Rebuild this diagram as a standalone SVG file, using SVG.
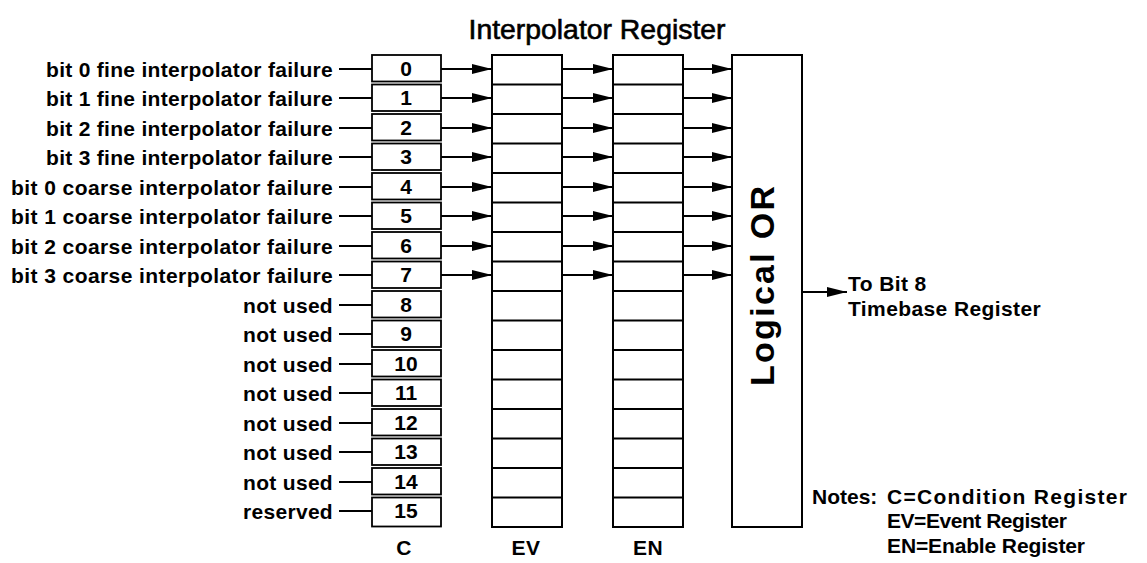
<svg xmlns="http://www.w3.org/2000/svg" width="1147" height="563" viewBox="0 0 1147 563">
<style>
  text { font-family: "Liberation Sans", Arial, sans-serif; fill: #000; }
  .lbl { font-size: 21px; font-weight: bold; letter-spacing: 0.3px; text-anchor: end; }
  .num { font-size: 21px; font-weight: bold; text-anchor: middle; }
  .col { font-size: 21px; font-weight: bold; text-anchor: middle; letter-spacing: 0.5px; }
  .out { font-size: 21px; font-weight: bold; letter-spacing: 0.4px; }
  .note { font-size: 21px; font-weight: bold; }
  .box { fill: #fff; stroke: #000; stroke-width: 2; }
  .cell { fill: #fff; stroke: #000; stroke-width: 1.8; }
  .ln { stroke: #000; stroke-width: 2; fill: none; }
  .arr { stroke: #000; stroke-width: 2; fill: none; marker-end: url(#ah); }
</style>
<defs>
  <marker id="ah" markerUnits="userSpaceOnUse" markerWidth="21" markerHeight="11" refX="20" refY="5" orient="auto">
    <path d="M0,0 L20,5 L0,10 z" fill="#000"/>
  </marker>
</defs>
<rect width="1147" height="563" fill="#fff"/>

<text id="title" x="597" y="39" font-size="27" text-anchor="middle" stroke="#000" stroke-width="0.6" textLength="257" lengthAdjust="spacingAndGlyphs">Interpolator Register</text>

<g id="labels">
  <text class="lbl" x="333" y="77">bit 0 fine interpolator failure</text>
  <text class="lbl" x="333" y="106">bit 1 fine interpolator failure</text>
  <text class="lbl" x="333" y="136">bit 2 fine interpolator failure</text>
  <text class="lbl" x="333" y="165">bit 3 fine interpolator failure</text>
  <text class="lbl" x="333" y="195" textLength="322" lengthAdjust="spacing">bit 0 coarse interpolator failure</text>
  <text class="lbl" x="333" y="224" textLength="322" lengthAdjust="spacing">bit 1 coarse interpolator failure</text>
  <text class="lbl" x="333" y="254" textLength="322" lengthAdjust="spacing">bit 2 coarse interpolator failure</text>
  <text class="lbl" x="333" y="283" textLength="322" lengthAdjust="spacing">bit 3 coarse interpolator failure</text>
  <text class="lbl" x="333" y="313">not used</text>
  <text class="lbl" x="333" y="342">not used</text>
  <text class="lbl" x="333" y="372">not used</text>
  <text class="lbl" x="333" y="401">not used</text>
  <text class="lbl" x="333" y="431">not used</text>
  <text class="lbl" x="333" y="460">not used</text>
  <text class="lbl" x="333" y="490">not used</text>
  <text class="lbl" x="333" y="519">reserved</text>
</g>

<g id="reg-C">
  <rect class="cell" x="372" y="55" width="69" height="26.5"/>
  <rect class="cell" x="372" y="84.5" width="69" height="26.5"/>
  <rect class="cell" x="372" y="114" width="69" height="26.5"/>
  <rect class="cell" x="372" y="143.5" width="69" height="26.5"/>
  <rect class="cell" x="372" y="173" width="69" height="26.5"/>
  <rect class="cell" x="372" y="202.5" width="69" height="26.5"/>
  <rect class="cell" x="372" y="232" width="69" height="26.5"/>
  <rect class="cell" x="372" y="261.5" width="69" height="26.5"/>
  <rect class="cell" x="372" y="291" width="69" height="26.5"/>
  <rect class="cell" x="372" y="320.5" width="69" height="26.5"/>
  <rect class="cell" x="372" y="350" width="69" height="26.5"/>
  <rect class="cell" x="372" y="379.5" width="69" height="26.5"/>
  <rect class="cell" x="372" y="409" width="69" height="26.5"/>
  <rect class="cell" x="372" y="438.5" width="69" height="26.5"/>
  <rect class="cell" x="372" y="468" width="69" height="26.5"/>
  <rect class="cell" x="372" y="497.5" width="69" height="29"/>
  <text class="num" x="406" y="76">0</text>
  <text class="num" x="406" y="105">1</text>
  <text class="num" x="406" y="135">2</text>
  <text class="num" x="406" y="164">3</text>
  <text class="num" x="406" y="194">4</text>
  <text class="num" x="406" y="223">5</text>
  <text class="num" x="406" y="253">6</text>
  <text class="num" x="406" y="282">7</text>
  <text class="num" x="406" y="312">8</text>
  <text class="num" x="406" y="341">9</text>
  <text class="num" x="406" y="371">10</text>
  <text class="num" x="406" y="400">11</text>
  <text class="num" x="406" y="430">12</text>
  <text class="num" x="406" y="459">13</text>
  <text class="num" x="406" y="489">14</text>
  <text class="num" x="406" y="518">15</text>
  <text class="col" x="404" y="555">C</text>
</g>

<g id="reg-EV">
  <rect class="box" x="492" y="55" width="70" height="472"/>
  <path class="ln" d="M492,84.5H562M492,114H562M492,143.5H562M492,173H562M492,202.5H562M492,232H562M492,261.5H562M492,291H562M492,320.5H562M492,350H562M492,379.5H562M492,409H562M492,438.5H562M492,468H562M492,497.5H562"/>
  <text class="col" x="526" y="555">EV</text>
</g>

<g id="reg-EN">
  <rect class="box" x="613" y="55" width="70" height="472"/>
  <path class="ln" d="M613,84.5H683M613,114H683M613,143.5H683M613,173H683M613,202.5H683M613,232H683M613,261.5H683M613,291H683M613,320.5H683M613,350H683M613,379.5H683M613,409H683M613,438.5H683M613,468H683M613,497.5H683"/>
  <text class="col" x="648" y="555">EN</text>
</g>

<g id="logical-or">
  <rect class="box" x="732" y="55" width="70" height="472"/>
  <text x="0" y="0" font-size="34" font-weight="bold" text-anchor="middle" textLength="200" lengthAdjust="spacing" transform="translate(774,286) rotate(-90)">Logical OR</text>
</g>

<g id="output-label">
  <text class="out" x="848" y="291">To Bit 8</text>
  <text class="out" x="848" y="316">Timebase Register</text>
</g>

<g id="notes">
  <text class="note" x="812" y="504" font-size="20">Notes:</text>
  <text class="note" x="887" y="504" textLength="240" lengthAdjust="spacing">C=Condition Register</text>
  <text class="note" x="887" y="528" textLength="180" lengthAdjust="spacing">EV=Event Register</text>
  <text class="note" x="887" y="553" textLength="198" lengthAdjust="spacing">EN=Enable Register</text>
</g>

<g id="connectors">
  <path class="ln" d="M339,69H372M339,98H372M339,128H372M339,157H372M339,187H372M339,216H372M339,246H372M339,275H372M339,305H372M339,334H372M339,364H372M339,393H372M339,423H372M339,452H372M339,482H372M339,511H372"/>
  <line class="arr" x1="441" y1="69" x2="492" y2="69"/>
  <line class="arr" x1="441" y1="98" x2="492" y2="98"/>
  <line class="arr" x1="441" y1="128" x2="492" y2="128"/>
  <line class="arr" x1="441" y1="157" x2="492" y2="157"/>
  <line class="arr" x1="441" y1="187" x2="492" y2="187"/>
  <line class="arr" x1="441" y1="216" x2="492" y2="216"/>
  <line class="arr" x1="441" y1="246" x2="492" y2="246"/>
  <line class="arr" x1="441" y1="275" x2="492" y2="275"/>
  <line class="arr" x1="562" y1="69" x2="613" y2="69"/>
  <line class="arr" x1="562" y1="98" x2="613" y2="98"/>
  <line class="arr" x1="562" y1="128" x2="613" y2="128"/>
  <line class="arr" x1="562" y1="157" x2="613" y2="157"/>
  <line class="arr" x1="562" y1="187" x2="613" y2="187"/>
  <line class="arr" x1="562" y1="216" x2="613" y2="216"/>
  <line class="arr" x1="562" y1="246" x2="613" y2="246"/>
  <line class="arr" x1="562" y1="275" x2="613" y2="275"/>
  <line class="arr" x1="683" y1="69" x2="732" y2="69"/>
  <line class="arr" x1="683" y1="98" x2="732" y2="98"/>
  <line class="arr" x1="683" y1="128" x2="732" y2="128"/>
  <line class="arr" x1="683" y1="157" x2="732" y2="157"/>
  <line class="arr" x1="683" y1="187" x2="732" y2="187"/>
  <line class="arr" x1="683" y1="216" x2="732" y2="216"/>
  <line class="arr" x1="683" y1="246" x2="732" y2="246"/>
  <line class="arr" x1="683" y1="275" x2="732" y2="275"/>
  <line class="arr" x1="802" y1="292" x2="847" y2="292"/>
</g>
</svg>
